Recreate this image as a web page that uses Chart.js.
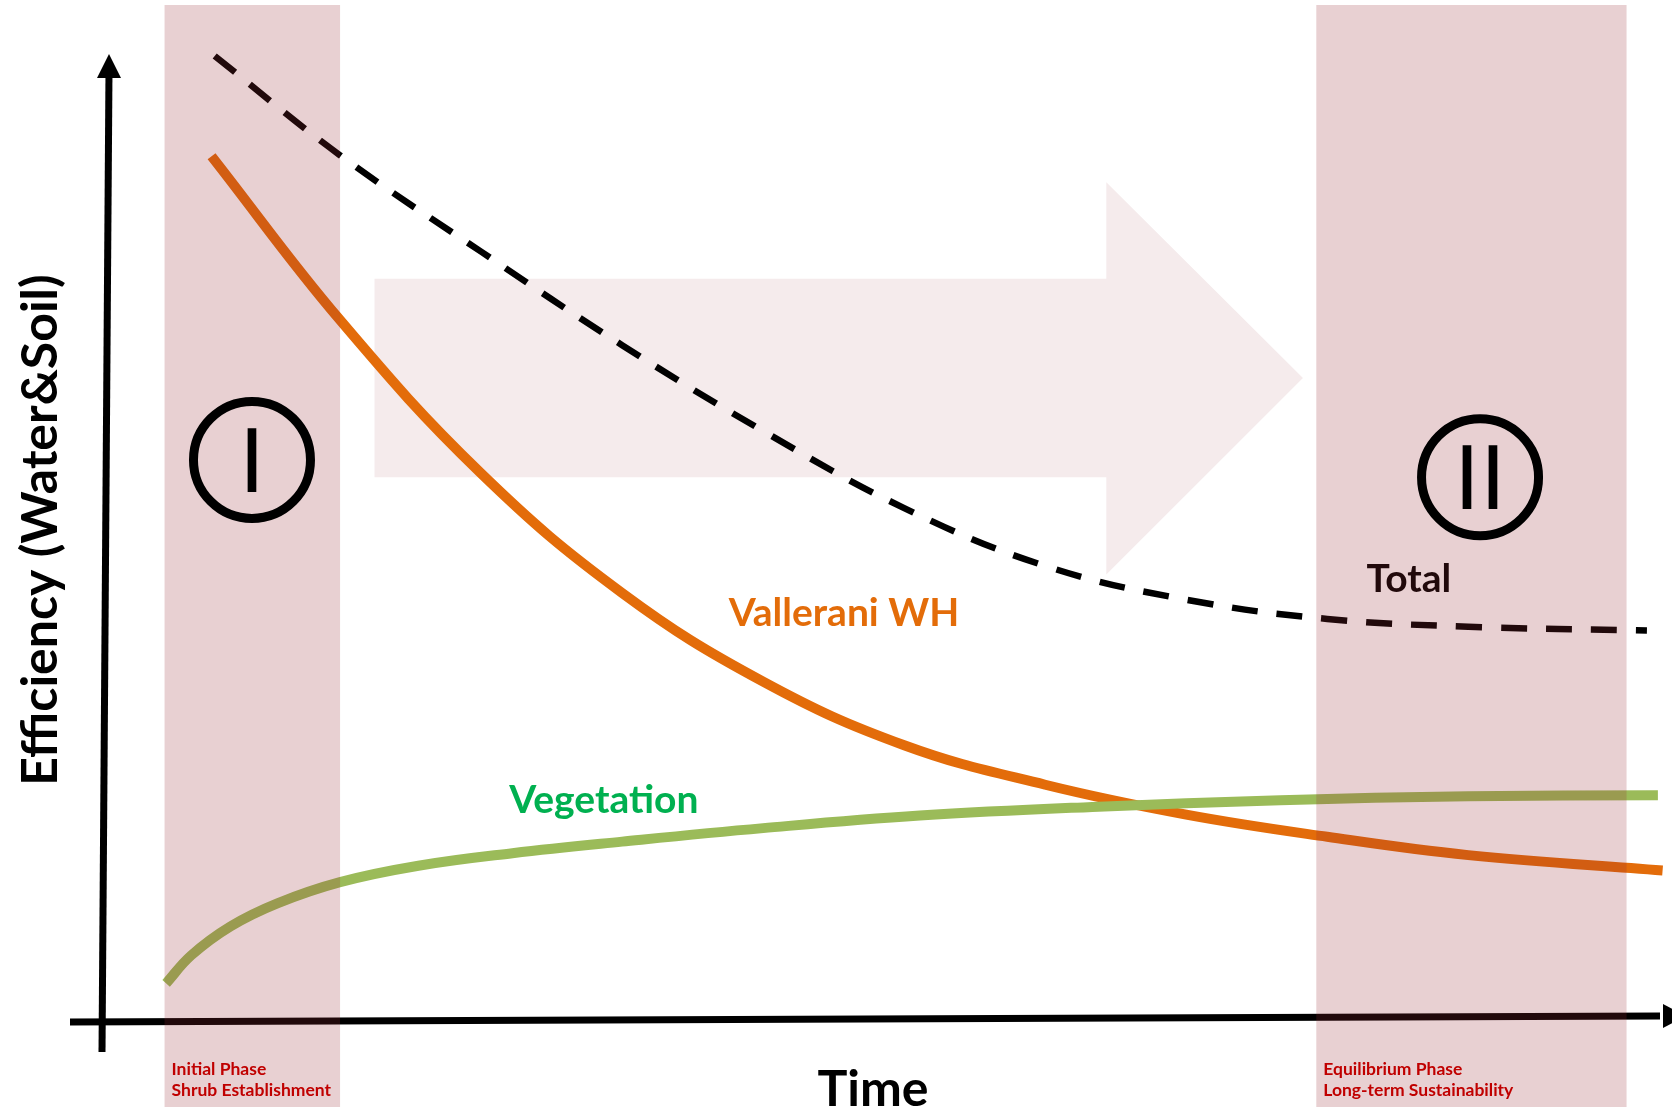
<!DOCTYPE html>
<html>
<head>
<meta charset="utf-8">
<script src="https://cdn.jsdelivr.net/npm/chart.js@4.4.1/dist/chart.umd.min.js"></script>
<style>
  html, body { margin: 0; padding: 0; background: #fff; }
  #wrap { width: 1672px; height: 1110px; }
</style>
</head>
<body>
<div id="wrap"><canvas id="grafico" width="1672" height="1110"></canvas></div>
<script>
// curves (time 0-100, efficiency 0-100)
const totalTime = [7.0, 15, 24, 33, 42, 51, 60, 69, 78, 87, 98.4];
const totalEff = [99.9, 89.6, 79.6, 69.9, 61.0, 53.0, 47.0, 43.5, 41.5, 40.7, 40.3];
const whTime = [6.8, 15, 24, 33, 42, 51, 60, 69, 78, 87, 99.4];
const whEff = [89.5, 72.5, 56.6, 44.2, 35.0, 28.4, 24.3, 21.2, 18.9, 17.0, 15.4];
const vegTime = [3.9, 5.5, 8, 11, 15, 20, 26, 33, 42, 52, 63, 75, 87, 99.1];
const vegEff = [3.7, 6.6, 9.6, 12.0, 14.2, 15.9, 17.2, 18.4, 19.8, 21.1, 22.0, 22.7, 23.1, 23.2];

const seriesNames = ['Total', 'Vallerani WH', 'Vegetation'];
const phaseBands = [[3.8, 15.0], [77.3, 97.1]];
const phaseNames = [['Initial Phase', 'Shrub Establishment'], ['Equilibrium Phase', 'Long-term Sustainability']];
const phaseMarks = ['I', 'II'];
const xTitle = 'Time';
const yTitle = 'Efficiency (Water&Soil)';

const pts = (xs, ys) => xs.map((v, i) => ({ x: v, y: ys[i] }));
const FONT = 'Lato, "Open Sans", sans-serif';

// where the decorations sit, in data units
const layoutCfg = {
  arrow: { x0: 17.2, notch: 63.9, tip: 76.45, top: 76.8, bottom: 56.2, headTop: 86.8, headBottom: 46.1, tipY: 66.5 },
  labels: [
    { text: seriesNames[0], x: 80.5, y: 44.3, color: '#000000' },
    { text: seriesNames[1], x: 39.8, y: 40.8, color: '#e36c09' },
    { text: seriesNames[2], x: 25.8, y: 21.4, color: '#00b050' }
  ],
  circles: [{ x: 9.38, y: 58.0 }, { x: 87.75, y: 56.2 }]
};

const decor = {
  id: 'decor',
  beforeDatasetsDraw(chart) {
    const { ctx, scales: { x, y } } = chart;
    const a = layoutCfg.arrow;
    ctx.save();
    ctx.fillStyle = '#f5ebec';
    ctx.beginPath();
    ctx.moveTo(x.getPixelForValue(a.x0), y.getPixelForValue(a.top));
    ctx.lineTo(x.getPixelForValue(a.notch), y.getPixelForValue(a.top));
    ctx.lineTo(x.getPixelForValue(a.notch), y.getPixelForValue(a.headTop));
    ctx.lineTo(x.getPixelForValue(a.tip), y.getPixelForValue(a.tipY));
    ctx.lineTo(x.getPixelForValue(a.notch), y.getPixelForValue(a.headBottom));
    ctx.lineTo(x.getPixelForValue(a.notch), y.getPixelForValue(a.bottom));
    ctx.lineTo(x.getPixelForValue(a.x0), y.getPixelForValue(a.bottom));
    ctx.closePath();
    ctx.fill();
    ctx.restore();
  },
  afterDatasetsDraw(chart) {
    const { ctx, scales: { x, y } } = chart;
    const W = chart.width, H = chart.height;
    ctx.save();

    // series labels
    ctx.font = 'bold 39px ' + FONT;
    ctx.textAlign = 'left';
    ctx.textBaseline = 'alphabetic';
    layoutCfg.labels.forEach(l => {
      ctx.fillStyle = l.color;
      ctx.fillText(l.text, x.getPixelForValue(l.x), y.getPixelForValue(l.y));
    });

    // axes with arrow heads
    const x0 = x.getPixelForValue(0), y0 = y.getPixelForValue(0);
    ctx.strokeStyle = '#000';
    ctx.fillStyle = '#000';
    ctx.lineWidth = 7;
    ctx.beginPath();
    ctx.moveTo(x0 - 3, 1052);
    ctx.lineTo(x0 + 4, 70);
    ctx.stroke();
    ctx.beginPath();
    ctx.moveTo(x0 + 4, y.top - 1);
    ctx.lineTo(x0 - 8, y.top + 23);
    ctx.lineTo(x0 + 16, y.top + 23);
    ctx.closePath();
    ctx.fill();
    ctx.beginPath();
    ctx.moveTo(70, y0 + 3);
    ctx.lineTo(W - 12, y0 - 3);
    ctx.stroke();
    ctx.beginPath();
    ctx.moveTo(W - 9, y0 - 15);
    ctx.lineTo(W + 14, y0 - 3);
    ctx.lineTo(W - 9, y0 + 9);
    ctx.closePath();
    ctx.fill();

    // phase bands, laid over the curves
    ctx.fillStyle = 'rgba(150, 40, 50, 0.22)';
    phaseBands.forEach(b => {
      const l = x.getPixelForValue(b[0]), r = x.getPixelForValue(b[1]);
      ctx.fillRect(l, 5, r - l, H - 8);
    });

    // phase circles
    ctx.lineWidth = 9;
    ctx.strokeStyle = '#000';
    ctx.fillStyle = '#000';
    ctx.textAlign = 'center';
    ctx.font = '88px "DejaVu Sans", sans-serif';
    layoutCfg.circles.forEach((c, i) => {
      const cx = x.getPixelForValue(c.x), cy = y.getPixelForValue(c.y);
      ctx.beginPath();
      ctx.arc(cx, cy, 58.5, 0, Math.PI * 2);
      ctx.stroke();
      ctx.fillText(phaseMarks[i], cx, cy + 32);
    });

    // phase captions
    ctx.fillStyle = '#c00000';
    ctx.textAlign = 'left';
    ctx.font = 'bold 17.5px ' + FONT;
    phaseBands.forEach((b, i) => {
      const l = x.getPixelForValue(b[0]) + 7;
      ctx.fillText(phaseNames[i][0], l, 1075);
      ctx.fillText(phaseNames[i][1], l, 1096);
    });

    // axis titles
    ctx.fillStyle = '#000';
    ctx.textAlign = 'center';
    ctx.font = 'bold 50px ' + FONT;
    ctx.fillText(xTitle, 873, 1106);
    ctx.translate(41, 530);
    ctx.rotate(-Math.PI / 2);
    ctx.textBaseline = 'middle';
    ctx.font = 'bold 50px ' + FONT;
    ctx.fillText(yTitle, 0, 0);
    ctx.restore();
  }
};

const lineDefaults = { pointRadius: 0, fill: false, tension: 0.4, borderCapStyle: 'butt', clip: false };

new Chart(document.getElementById('grafico'), {
  type: 'line',
  data: {
    datasets: [
      { ...lineDefaults, label: seriesNames[2], data: pts(vegTime, vegEff), borderColor: '#9bbb59', borderWidth: 10 },
      { ...lineDefaults, label: seriesNames[1], data: pts(whTime, whEff), borderColor: '#e36c0a', borderWidth: 10 },
      { ...lineDefaults, label: seriesNames[0], data: pts(totalTime, totalEff), borderColor: '#000000', borderWidth: 6.5, borderDash: [26, 19] }
    ]
  },
  options: {
    responsive: false,
    animation: false,
    devicePixelRatio: 1,
    layout: { padding: { left: 105, right: 0, top: 55, bottom: 91 } },
    plugins: { legend: { display: false }, tooltip: { enabled: false } },
    scales: {
      x: { type: 'linear', min: 0, max: 100, display: false },
      y: { type: 'linear', min: 0, max: 100, display: false }
    }
  },
  plugins: [decor]
});
</script>
</body>
</html>
